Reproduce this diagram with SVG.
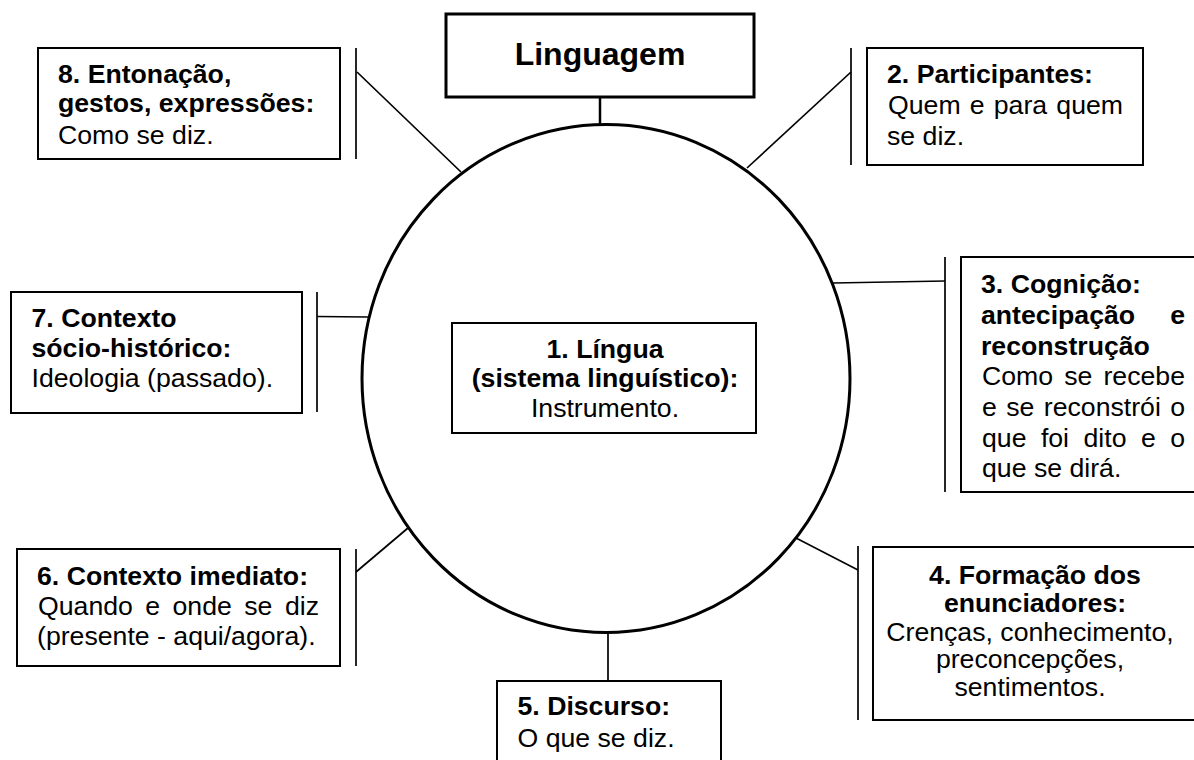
<svg xmlns="http://www.w3.org/2000/svg" width="1194" height="760" viewBox="0 0 1194 760">
<style>
.box{fill:#fff;stroke:#000;stroke-width:2}
.t{font-family:"Liberation Sans",Arial,sans-serif;font-size:26.67px;fill:#000}
.b{font-weight:bold}
.c{text-anchor:middle}
.ln{stroke:#000;stroke-width:1.7;fill:none}
</style>
<rect width="1194" height="760" fill="#fff"/>
<g id="connectors">
<line class="ln" x1="600" y1="97" x2="600" y2="124" style="stroke-width:2.5"/>
<line class="ln" x1="356" y1="48" x2="356" y2="159"/>
<line class="ln" x1="357" y1="72" x2="461" y2="172"/>
<line class="ln" x1="851" y1="48" x2="851" y2="165"/>
<line class="ln" x1="851" y1="72" x2="747" y2="168"/>
<line class="ln" x1="945" y1="257" x2="945" y2="492"/>
<line class="ln" x1="833" y1="283" x2="945" y2="281"/>
<line class="ln" x1="317" y1="292" x2="317" y2="412"/>
<line class="ln" x1="317" y1="316.5" x2="368" y2="317"/>
<line class="ln" x1="356" y1="549" x2="356" y2="666"/>
<line class="ln" x1="356" y1="572" x2="408" y2="528"/>
<line class="ln" x1="608" y1="632" x2="608" y2="681"/>
<line class="ln" x1="858" y1="546" x2="858" y2="720"/>
<line class="ln" x1="796" y1="538" x2="858" y2="570"/>
</g>
<g id="circle">
<ellipse cx="606" cy="378.5" rx="244" ry="254" fill="none" stroke="#000" stroke-width="3"/>
</g>
<g id="linguagem">
<rect x="446" y="14" width="308" height="83" fill="#fff" stroke="#000" stroke-width="3"/>
<text class="t b c" x="600" y="65" style="font-size:32px">Linguagem</text>
</g>
<g id="n1">
<rect class="box" x="452" y="323" width="304" height="110"/>
<text class="t b c" x="605" y="357.5">1. Língua</text>
<text class="t b c" x="605" y="387">(sistema linguístico):</text>
<text class="t c" x="605" y="416.5">Instrumento.</text>
</g>
<g id="n2">
<rect class="box" x="867" y="48" width="276" height="117"/>
<text class="t b" x="887" y="82.7">2. Participantes:</text>
<text class="t" y="114"><tspan x="888">Quem</tspan><tspan x="969.8">e</tspan><tspan x="993.8">para</tspan><tspan x="1123" text-anchor="end">quem</tspan></text>
<text class="t" x="887" y="145">se diz.</text>
</g>
<g id="n3">
<rect class="box" x="961" y="257" width="245" height="235"/>
<text class="t b" x="981" y="293.3">3. Cognição:</text>
<text class="t b" y="324"><tspan x="981">antecipação</tspan><tspan x="1185" text-anchor="end">e</tspan></text>
<text class="t b" x="981" y="354.6">reconstrução</text>
<text class="t" y="385.3"><tspan x="982">Como</tspan><tspan x="1064.2">se</tspan><tspan x="1185" text-anchor="end">recebe</tspan></text>
<text class="t" y="416"><tspan x="982">e</tspan><tspan x="1006.2">se</tspan><tspan x="1043.8">reconstrói</tspan><tspan x="1185" text-anchor="end">o</tspan></text>
<text class="t" y="446.6"><tspan x="982">que</tspan><tspan x="1040.9">foi</tspan><tspan x="1083.5">dito</tspan><tspan x="1140.9">e</tspan><tspan x="1185" text-anchor="end">o</tspan></text>
<text class="t" x="982" y="477.3">que se dirá.</text>
</g>
<g id="n4">
<rect class="box" x="873" y="547" width="335" height="173"/>
<text class="t b c" x="1035" y="584">4. Formação dos</text>
<text class="t b c" x="1035" y="611.5">enunciadores:</text>
<text class="t c" x="1030" y="641">Crenças, conhecimento,</text>
<text class="t c" x="1030" y="668">preconcepções,</text>
<text class="t c" x="1030" y="696">sentimentos.</text>
</g>
<g id="n5">
<rect class="box" x="497" y="681" width="224" height="90"/>
<text class="t b" x="517.5" y="715">5. Discurso:</text>
<text class="t" x="517.5" y="746.5">O que se diz.</text>
</g>
<g id="n6">
<rect class="box" x="17" y="549" width="323" height="117"/>
<text class="t b" x="37" y="585">6. Contexto imediato:</text>
<text class="t" y="615"><tspan x="38">Quando</tspan><tspan x="145.3">e</tspan><tspan x="172.5">onde</tspan><tspan x="244.2">se</tspan><tspan x="319" text-anchor="end">diz</tspan></text>
<text class="t" x="37" y="645">(presente - aqui/agora).</text>
</g>
<g id="n7">
<rect class="box" x="11" y="292" width="291" height="121"/>
<text class="t b" x="31.5" y="326.7">7. Contexto</text>
<text class="t b" x="31.5" y="357">sócio-histórico:</text>
<text class="t" x="31.5" y="387">Ideologia (passado).</text>
</g>
<g id="n8">
<rect class="box" x="38" y="48" width="302" height="111"/>
<text class="t b" x="58" y="82.7">8. Entonação,</text>
<text class="t b" x="58" y="112">gestos, expressões:</text>
<text class="t" x="58" y="144">Como se diz.</text>
</g>
</svg>
